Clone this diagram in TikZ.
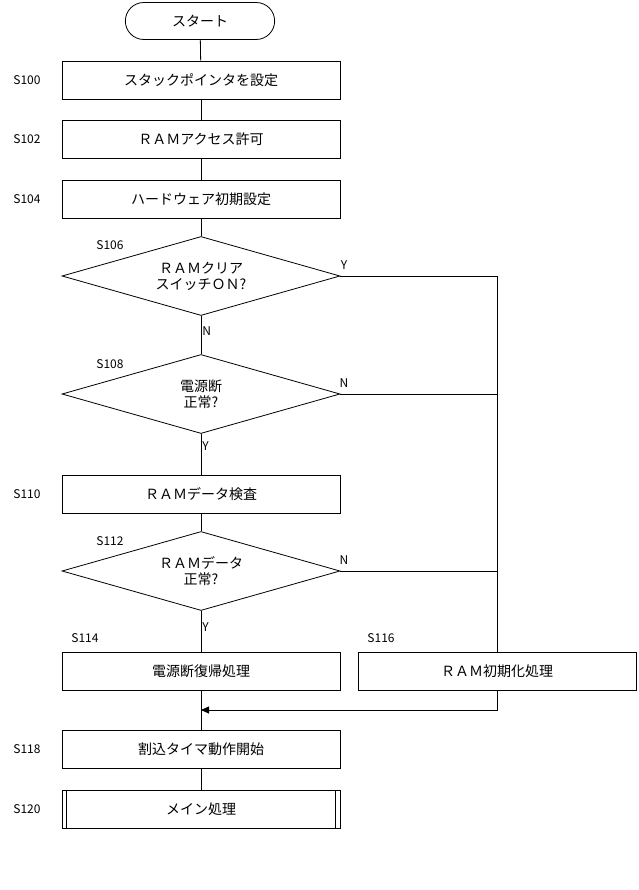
\documentclass[tikz,border=0pt]{standalone}
\usepackage{fontspec}
\setmainfont{Noto Sans CJK JP}
\usetikzlibrary{positioning,shapes.geometric,shapes.misc,arrows.meta}
\tikzset{
  procbox/.style={draw, minimum width=278pt, minimum height=38pt, inner sep=0pt, font=\fontsize{14}{16}\selectfont},
  decide/.style={draw, diamond, aspect=3.55, minimum width=278pt, minimum height=79pt, inner sep=0pt, align=center, font=\fontsize{14}{16}\selectfont},
  steplabel/.style={font=\fontsize{12}{14}\selectfont, inner sep=1pt},
  yn/.style={font=\fontsize{12}{14}\selectfont, inner sep=1pt}
}
\begin{document}
\begin{tikzpicture}[x=1pt,y=-1pt, line width=0.8pt]
            \useasboundingbox (0,0) rectangle (638,890);
            \node[draw, rounded rectangle, minimum width=156pt, minimum height=37pt, font=\fontsize{14}{16}\selectfont] (start) at (200,21) {スタート};
            \node[procbox] (s100) at (201,80) {スタックポインタを設定};
            \node[procbox] (s102) at (201,139) {ＲＡＭアクセス許可};
            \node[procbox] (s104) at (201,199) {ハードウェア初期設定};
            \node[decide]  (s106) at (201,276) {ＲＡＭクリア\\スイッチＯＮ?};
            \node[decide]  (s108) at (201,394) {電源断\\正常?};
            \node[procbox] (s110) at (201,494) {ＲＡＭデータ検査};
            \node[decide]  (s112) at (201,571) {ＲＡＭデータ\\正常?};
            \node[procbox] (s114) at (201,671) {電源断復帰処理};
            \node[procbox] (s116) at (497,671) {ＲＡＭ初期化処理};
            \node[procbox] (s118) at (201,749) {割込タイマ動作開始};
            \node[procbox] (s120) at (201,809) {メイン処理};
            \draw ([xshift=5pt]s120.north west) -- ([xshift=5pt]s120.south west);
            \draw ([xshift=-5pt]s120.north east) -- ([xshift=-5pt]s120.south east);

            \node[steplabel] (l100) at (27,80) {S100};
            \node[steplabel] (l102) at (27,139) {S102};
            \node[steplabel] (l104) at (27,199) {S104};
            \node[steplabel] (l106) at (110,245) {S106};
            \node[steplabel] (l108) at (110,364) {S108};
            \node[steplabel] (l110) at (27,494) {S110};
            \node[steplabel] (l112) at (110,541) {S112};
            \node[steplabel] (l114) at (85,638) {S114};
            \node[steplabel] (l116) at (381,638) {S116};
            \node[steplabel] (l118) at (27,749) {S118};
            \node[steplabel] (l120) at (27,809) {S120};

            \coordinate (join) at (497,710);
            \coordinate (mainin) at (201,710);

            \draw (start) -- (s100);
            \draw (s100) -- (s102);
            \draw (s102) -- (s104);
            \draw (s104) -- (s106);
            \draw (s106) -- node[yn, right, pos=0.4] {N} (s108);
            \draw (s108) -- node[yn, right, pos=0.3] {Y} (s110);
            \draw (s110) -- (s112);
            \draw (s112) -- node[yn, right, pos=0.4] {Y} (s114);
            \draw (s106.east) -- (497,276) -- (s116.north);
            \draw (s108.east) -- (497,394);
            \draw (s112.east) -- (497,571);
            \draw (s116.south) -- (join) -- (mainin);
            \draw[-{Triangle[length=8pt,width=7pt]}] (join) -- (mainin);
            \draw (s114) -- (s118);
            \draw (s118) -- (s120);
            \node[yn] (ly106) at (344,265) {Y};
            \node[yn] (ln108) at (344,383) {N};
            \node[yn] (ln112) at (344,560) {N};
\end{tikzpicture}
\end{document}
